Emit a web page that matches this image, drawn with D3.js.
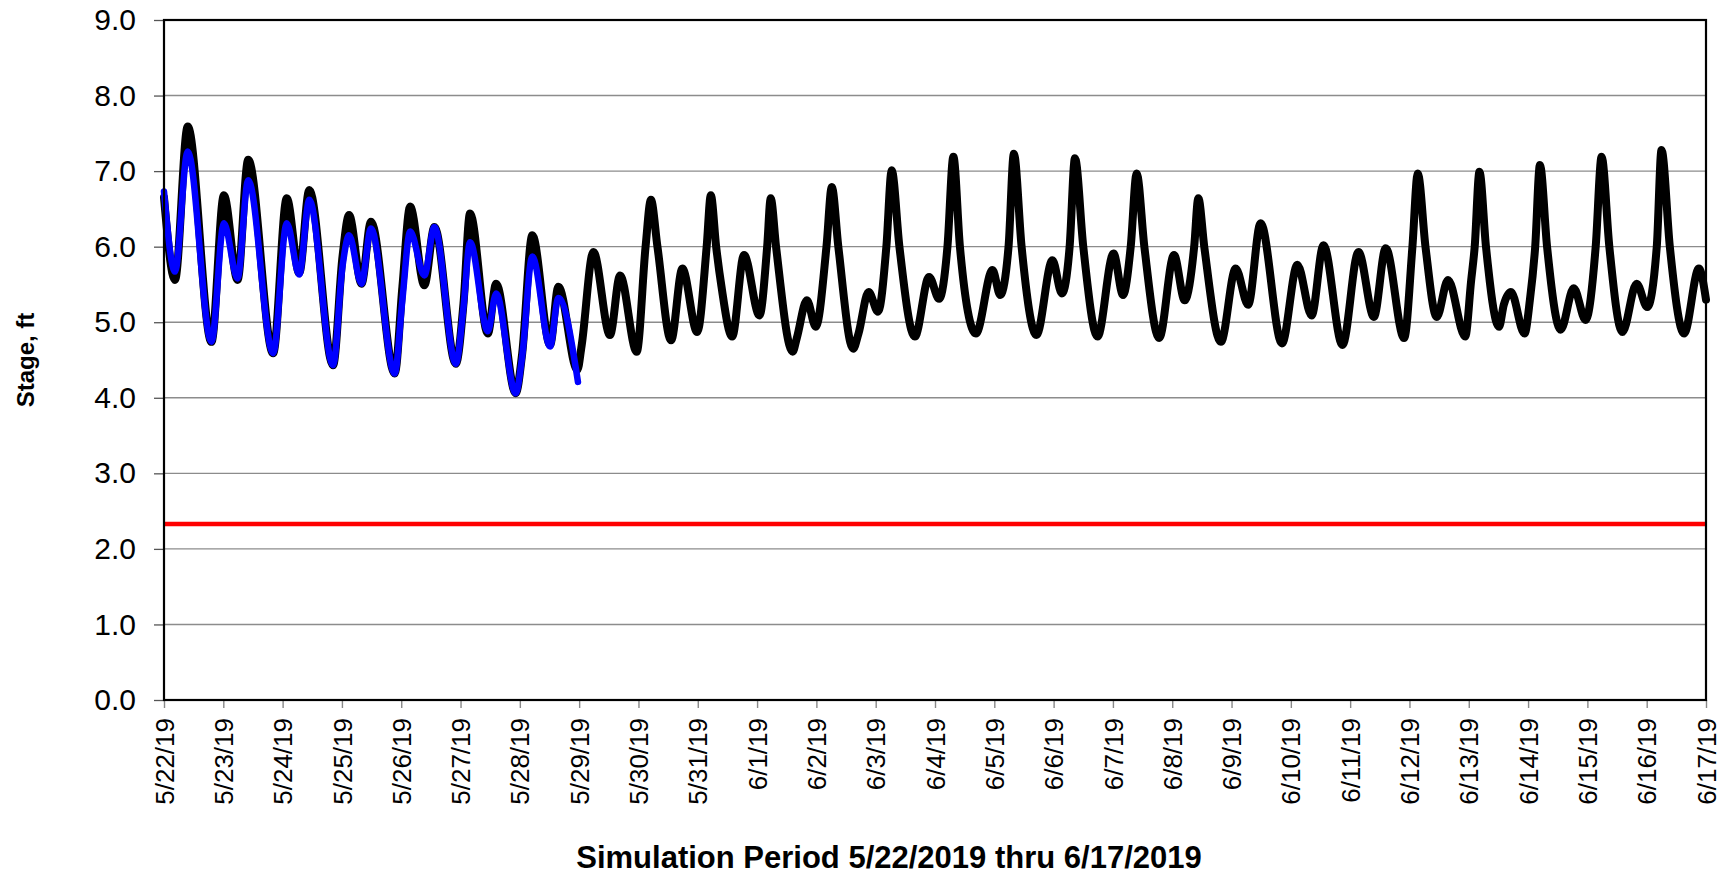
<!DOCTYPE html>
<html>
<head>
<meta charset="utf-8">
<script src="https://cdn.jsdelivr.net/npm/d3@7"></script>
<style>
    html, body { margin: 0; padding: 0; background: #fff; }
    svg { display: block; font-family: 'Liberation Sans', Arial, sans-serif; }
</style>
</head>
<body>
<div id="chart"></div>
<script>
// days since 5/22/19 00:00 and stage (ft)
// (turning points, plus where the tall spikes cross 6.0 ft)
const simDays = [
    0.00, 0.185, 0.40, 0.80, 1.01, 1.24, 1.42, 1.84, 2.07, 2.28, 2.45, 2.85,
    3.01, 3.12, 3.33, 3.49, 3.89, 4.02, 4.15, 4.39, 4.56, 4.92, 5.05, 5.16,
    5.46, 5.60, 5.93, 6.04, 6.21, 6.51, 6.65, 6.97, 7.04, 7.24, 7.52, 7.69,
    7.97, 8.12, 8.21, 8.32, 8.55, 8.74, 8.99, 9.15, 9.22, 9.31, 9.40, 9.58,
    9.78, 10.04, 10.17, 10.23, 10.32, 10.60, 10.67, 10.84, 10.99, 11.17, 11.26, 11.37,
    11.62, 11.71, 11.88, 12.04, 12.18, 12.27, 12.40, 12.66, 12.90, 13.07, 13.21, 13.31,
    13.42, 13.69, 13.97, 14.10, 14.24, 14.33, 14.46, 14.71, 14.98, 15.14, 15.27, 15.36,
    15.50, 15.74, 16.01, 16.17, 16.30, 16.40, 16.53, 16.78, 17.03, 17.21, 17.37, 17.44,
    17.54, 17.82, 18.07, 18.28, 18.49, 18.85, 19.11, 19.35, 19.55, 19.87, 20.14, 20.40,
    20.60, 20.91, 21.05, 21.14, 21.27, 21.46, 21.65, 21.94, 22.04, 22.10, 22.18, 22.29,
    22.51, 22.59, 22.71, 22.94, 23.03, 23.12, 23.20, 23.32, 23.55, 23.77, 23.97, 24.14,
    24.24, 24.37, 24.59, 24.83, 25.01, 25.17, 25.25, 25.39, 25.63, 25.88, 26.00
];
const simStage = [
    6.65, 5.56, 7.59, 4.74, 6.68, 5.56, 7.15, 4.59, 6.64, 5.65, 6.75, 4.43,
    5.87, 6.42, 5.51, 6.33, 4.32, 5.47, 6.53, 5.49, 6.26, 4.45, 5.25, 6.44,
    4.85, 5.51, 4.06, 4.59, 6.15, 4.70, 5.47, 4.37, 4.68, 5.93, 4.83, 5.62,
    4.61, 6.00, 6.62, 6.00, 4.76, 5.71, 4.87, 6.00, 6.68, 6.00, 5.47, 4.81,
    5.89, 5.09, 6.00, 6.64, 6.00, 4.61, 4.79, 5.29, 4.94, 6.00, 6.79, 6.00,
    4.65, 4.85, 5.40, 5.14, 6.00, 7.01, 6.00, 4.81, 5.60, 5.31, 6.00, 7.19,
    6.00, 4.85, 5.69, 5.36, 6.00, 7.23, 6.00, 4.83, 5.82, 5.38, 6.00, 7.17,
    6.00, 4.81, 5.91, 5.36, 6.00, 6.97, 6.00, 4.79, 5.89, 5.29, 6.00, 6.64,
    6.00, 4.74, 5.71, 5.23, 6.31, 4.72, 5.76, 5.09, 6.02, 4.70, 5.93, 5.07,
    5.98, 4.79, 6.00, 6.97, 6.00, 5.07, 5.56, 4.81, 5.55, 6.00, 6.99, 6.00,
    4.94, 5.23, 5.40, 4.85, 5.29, 6.00, 7.08, 6.00, 4.90, 5.45, 5.03, 6.00,
    7.19, 6.00, 4.87, 5.51, 5.20, 6.00, 7.28, 6.00, 4.85, 5.71, 5.30
];

const obsDays = [
    0.00, 0.185, 0.40, 0.80, 1.01, 1.24, 1.42, 1.84, 2.07, 2.28, 2.45, 2.85,
    3.01, 3.12, 3.33, 3.49, 3.89, 4.02, 4.15, 4.39, 4.56, 4.92, 5.05, 5.16,
    5.46, 5.60, 5.93, 6.04, 6.21, 6.51, 6.65, 6.98
];
const obsStage = [
    6.73, 5.67, 7.26, 4.74, 6.31, 5.58, 6.88, 4.59, 6.31, 5.63, 6.62, 4.43,
    5.74, 6.15, 5.51, 6.24, 4.32, 5.30, 6.20, 5.62, 6.26, 4.45, 5.20, 6.06,
    4.88, 5.38, 4.06, 4.55, 5.87, 4.68, 5.32, 4.21
];

const thresholdStage = 2.33;

const yTicks = [0, 1, 2, 3, 4, 5, 6, 7, 8, 9];
const startDate = new Date(2019, 4, 22);
const endDate = new Date(2019, 5, 17);

const yTitle = 'Stage, ft';
const xTitle = 'Simulation Period 5/22/2019 thru 6/17/2019';

const width = 1727;
const height = 878;
const margin = { top: 20, right: 21, bottom: 178, left: 164 };
const plotW = width - margin.left - margin.right;
const plotH = height - margin.top - margin.bottom;

const toDate = (d) => new Date(startDate.getTime() + d * 864e5);

const x = d3.scaleTime()
    .domain([startDate, endDate])
    .range([0, plotW]);

const y = d3.scaleLinear()
    .domain([0, 9])
    .range([plotH, 0]);

const svg = d3.select('#chart')
    .append('svg')
    .attr('width', width)
    .attr('height', height);

const g = svg.append('g')
    .attr('transform', `translate(${margin.left},${margin.top})`);

// grid
g.append('g')
    .selectAll('line')
    .data(yTicks.filter(v => v > 0 && v < 9))
    .join('line')
    .attr('x1', 0)
    .attr('x2', plotW)
    .attr('y1', d => y(d))
    .attr('y2', d => y(d))
    .attr('stroke', '#8c8c8c')
    .attr('stroke-width', 1.4);

// y axis
const yAxis = g.append('g')
    .call(d3.axisLeft(y)
        .tickValues(yTicks)
        .tickSize(10)
        .tickPadding(18)
        .tickFormat(d3.format('.1f')));
yAxis.select('.domain').remove();
yAxis.selectAll('line').attr('stroke', '#555').attr('stroke-width', 1.3);
yAxis.selectAll('text')
    .attr('font-size', 30)
    .attr('fill', '#000');

// x axis
const xAxis = g.append('g')
    .attr('transform', `translate(0,${plotH})`)
    .call(d3.axisBottom(x)
        .ticks(d3.timeDay.every(1))
        .tickSize(8)
        .tickFormat(d3.timeFormat('%-m/%-d/%y')));
xAxis.select('.domain').remove();
xAxis.selectAll('line').attr('stroke', '#888').attr('stroke-width', 1.4);
xAxis.selectAll('text')
    .attr('font-size', 26)
    .attr('fill', '#000')
    .attr('text-anchor', 'end')
    .attr('transform', 'rotate(-90)')
    .attr('x', -18)
    .attr('y', 0)
    .attr('dy', '0.35em');

// red reference level
g.append('line')
    .attr('x1', 0)
    .attr('x2', plotW)
    .attr('y1', y(thresholdStage))
    .attr('y2', y(thresholdStage))
    .attr('stroke', '#ff0000')
    .attr('stroke-width', 4.5);

const line = d3.line()
    .x(d => x(toDate(d[0])))
    .y(d => y(d[1]))
    .curve(d3.curveMonotoneX);

g.append('path')
    .datum(d3.zip(simDays, simStage))
    .attr('fill', 'none')
    .attr('stroke', '#000')
    .attr('stroke-width', 8)
    .attr('stroke-linejoin', 'round')
    .attr('stroke-linecap', 'round')
    .attr('d', line);

g.append('path')
    .datum(d3.zip(obsDays, obsStage))
    .attr('fill', 'none')
    .attr('stroke', '#0000ff')
    .attr('stroke-width', 6.5)
    .attr('stroke-linejoin', 'round')
    .attr('stroke-linecap', 'round')
    .attr('d', line);

// plot frame
g.append('rect')
    .attr('width', plotW)
    .attr('height', plotH)
    .attr('fill', 'none')
    .attr('stroke', '#000')
    .attr('stroke-width', 2.2);

// titles
svg.append('text')
    .attr('transform', `translate(26,${margin.top + plotH / 2}) rotate(-90)`)
    .attr('text-anchor', 'middle')
    .attr('dy', '0.35em')
    .attr('font-size', 24)
    .attr('font-weight', 'bold')
    .text(yTitle);

svg.append('text')
    .attr('x', 889)
    .attr('y', 857)
    .attr('text-anchor', 'middle')
    .attr('dy', '0.35em')
    .attr('font-size', 31)
    .attr('font-weight', 'bold')
    .text(xTitle);
</script>
</body>
</html>
